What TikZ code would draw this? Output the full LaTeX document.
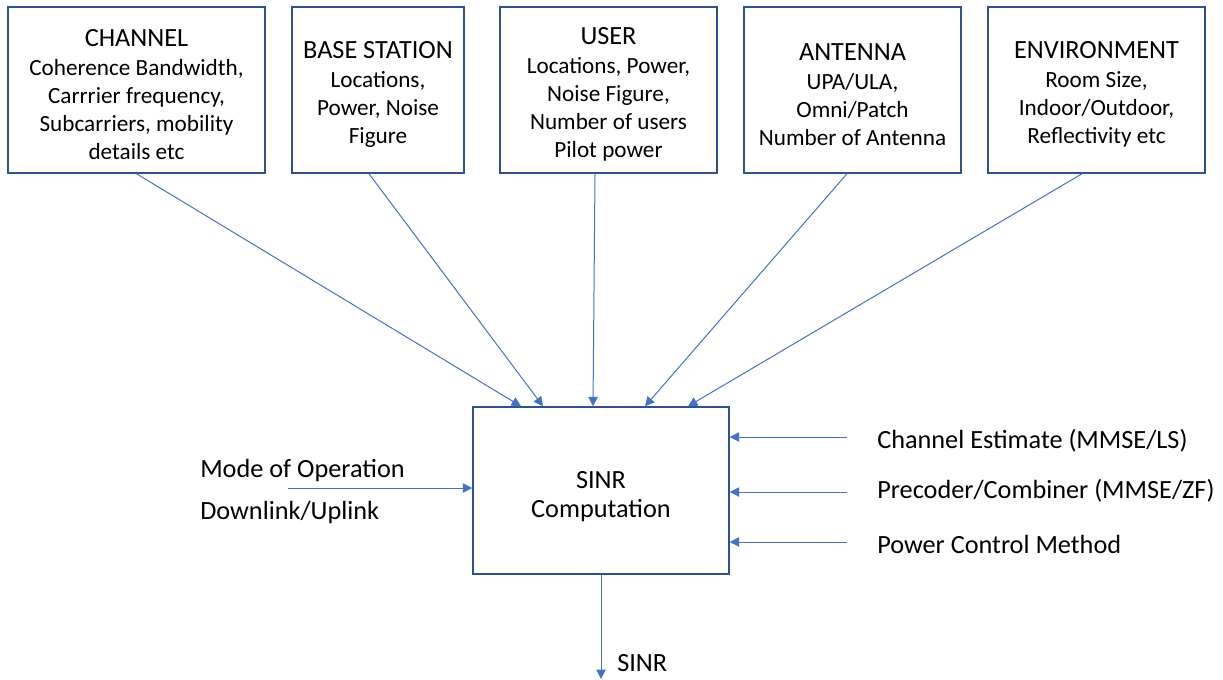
\documentclass[tikz,border=0pt]{standalone}
\usepackage{fontspec}
\setmainfont{Carlito}
\usetikzlibrary{arrows.meta,calc}
\definecolor{boxline}{HTML}{2F528F}
\definecolor{arrline}{HTML}{4472C4}
\tikzset{
  inbox/.style={draw=boxline, line width=1.1pt, fill=white, inner sep=0pt,
    minimum width=217*0.75pt, minimum height=166*0.75pt},
  boxtext/.style={inner sep=0pt, align=center, font=\fontsize{17.4}{21}\selectfont},
  arr/.style={draw=arrline, line width=0.75pt, -{Triangle[length=7pt,width=7pt]}},
  lbl/.style={anchor=west, inner sep=0pt, font=\fontsize{19.7}{22}\selectfont},
}
\newcommand{\ttl}[1]{{\fontsize{19.7}{22}\selectfont #1}\\[1.2pt]}
\begin{document}
\begin{tikzpicture}[x=0.75pt,y=-0.75pt]
\useasboundingbox[fill=white] (0,0) rectangle (1223,679);

% parameter boxes
\node[inbox, minimum width=257*0.75pt] (ch) at (136.5,90) {};
\node[inbox, minimum width=172*0.75pt] (bs) at (378,90) {};
\node[inbox] (us) at (608.5,90) {};
\node[inbox] (an) at (852.5,90) {};
\node[inbox] (en) at (1096.5,90) {};

\node[boxtext] (cht) at ($(ch)+(0,4.5)$)
  {\ttl{CHANNEL}Coherence Bandwidth,\\Carrrier frequency,\\Subcarriers, mobility\\details etc};
\node[boxtext] (bst) at ($(bs)+(0,4.5)$)
  {\ttl{BASE STATION}Locations,\\Power, Noise\\Figure};
\node[boxtext] (ust) at ($(us)+(0,4.5)$)
  {\ttl{USER}Locations, Power,\\Noise Figure,\\Number of users\\Pilot power};
\node[boxtext] (ant) at ($(an)+(0,4.5)$)
  {\ttl{ANTENNA}UPA/ULA,\\Omni/Patch\\Number of Antenna};
\node[boxtext] (ent) at ($(en)+(0,4.5)$)
  {\ttl{ENVIRONMENT}Room Size,\\Indoor/Outdoor,\\Reflectivity etc};

% central block
\node[inbox, minimum width=256*0.75pt, minimum height=167*0.75pt] (sinr) at (601,490.5) {};
\node[boxtext, font=\fontsize{19.7}{22}\selectfont] (sinrt) at ($(sinr)+(0,6)$) {SINR\\Computation};

% inputs from the parameter boxes
\draw[arr] (ch.south) -- ($(sinr.north)+(-80,0)$);
\draw[arr] ($(bs.south)+(-9,0)$) -- ($(sinr.north)+(-58,0)$);
\draw[arr] ($(us.south)+(-13.5,0)$) -- ($(sinr.north)+(-8,0)$);
\draw[arr] ($(an.south)+(-5.5,0)$) -- ($(sinr.north)+(44,0)$);
\draw[arr] ($(en.south)+(-14.5,0)$) -- ($(sinr.north)+(87,0)$);

% right-hand inputs
\node[lbl] (ce) at (877,441) {Channel Estimate (MMSE/LS)};
\node[lbl] (pc) at (877,491) {Precoder/Combiner (MMSE/ZF)};
\node[lbl] (pw) at (877,544) {Power Control Method};
\coordinate (ce0) at (847,437);
\coordinate (pc0) at (847,492);
\coordinate (pw0) at (847,542);
\draw[arr] (ce0) -- (sinr.east |- ce0);
\draw[arr] (pc0) -- (sinr.east |- pc0);
\draw[arr] (pw0) -- (sinr.east |- pw0);

% left-hand input
\node[lbl] (mo) at (200,470) {Mode of Operation};
\node[lbl] (dl) at (200,512) {Downlink/Uplink};
\coordinate (mo0) at (288,488);
\draw[arr] (mo0) -- (sinr.west |- mo0);

% output
\coordinate (out) at (601,679);
\draw[arr] (sinr.south) -- (out);
\node[lbl] (so) at (617,663) {SINR};
\end{tikzpicture}
\end{document}
